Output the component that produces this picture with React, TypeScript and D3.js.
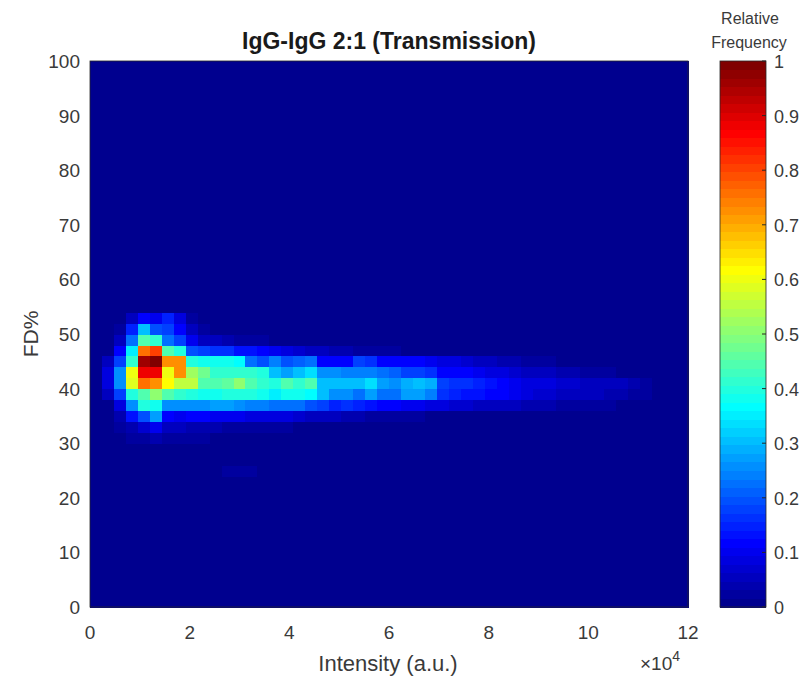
import React from 'react';
import * as d3 from 'd3';

// FD% bins are 2 wide, intensity bins are 2400 wide (50 x 50 grid)
const intensityBinWidth = 2400;
const fdBinWidth = 2;
const nIntensityBins = 50;
const nFdBins = 50;

// lower edge of each FD% row that has counts; cells left out are 0
const fdRowStarts = [24, 30, 32, 34, 36, 38, 40, 42, 44, 46, 48, 50, 52];

// relative frequency per intensity bin (from 0), one list per row above
const freqRows = [
  [0, 0, 0, 0, 0, 0, 0, 0, 0, 0, 0, 0.02, 0.03, 0.02],
  [0, 0, 0, 0.02, 0.03, 0.04, 0.03, 0.02, 0.02, 0.02],
  [0, 0, 0.02, 0.04, 0.07, 0.1, 0.05, 0.05, 0.04, 0.04, 0.04, 0.03, 0.03, 0.03, 0.02, 0.02, 0.02],
  [0, 0, 0.04, 0.14, 0.2, 0.28, 0.12, 0.1, 0.11, 0.11, 0.1, 0.1, 0.1, 0.09, 0.09, 0.08, 0.08, 0.07, 0.06, 0.05,
    0.05, 0.04, 0.04, 0.03, 0.03, 0.03, 0.02, 0.02],
  [0, 0, 0.08, 0.25, 0.4, 0.38, 0.25, 0.25, 0.25, 0.25, 0.27, 0.27, 0.26, 0.24, 0.24, 0.22, 0.23, 0.23, 0.2, 0.18,
    0.15, 0.17, 0.15, 0.14, 0.12, 0.11, 0.1, 0.1, 0.09, 0.08, 0.07, 0.07, 0.06, 0.05, 0.05, 0.05, 0.04, 0.04, 0.04,
    0.03, 0.03, 0.03, 0.02, 0.02],
  [0, 0.05, 0.18, 0.4, 0.45, 0.5, 0.45, 0.42, 0.4, 0.38, 0.38, 0.4, 0.4, 0.4, 0.39, 0.35, 0.38, 0.38, 0.36, 0.3,
    0.25, 0.25, 0.22, 0.28, 0.22, 0.22, 0.27, 0.27, 0.24, 0.16, 0.15, 0.14, 0.13, 0.12, 0.11, 0.1, 0.08, 0.07, 0.07,
    0.06, 0.06, 0.05, 0.05, 0.04, 0.04, 0.03, 0.03],
  [0, 0.08, 0.25, 0.58, 0.75, 0.72, 0.62, 0.56, 0.55, 0.45, 0.45, 0.46, 0.5, 0.44, 0.42, 0.4, 0.44, 0.41, 0.44, 0.3,
    0.3, 0.3, 0.31, 0.33, 0.28, 0.25, 0.29, 0.3, 0.29, 0.18, 0.17, 0.16, 0.15, 0.13, 0.12, 0.1, 0.09, 0.08, 0.08,
    0.07, 0.07, 0.06, 0.06, 0.06, 0.05, 0.04, 0.03],
  [0, 0.08, 0.25, 0.6, 0.88, 0.88, 0.6, 0.72, 0.52, 0.48, 0.42, 0.42, 0.42, 0.41, 0.4, 0.3, 0.28, 0.3, 0.33, 0.25,
    0.25, 0.24, 0.24, 0.24, 0.22, 0.21, 0.18, 0.18, 0.17, 0.12, 0.11, 0.11, 0.1, 0.08, 0.08, 0.07, 0.06, 0.05, 0.05,
    0.04, 0.04, 0.03, 0.03, 0.02],
  [0, 0.05, 0.18, 0.42, 0.96, 1.0, 0.72, 0.72, 0.4, 0.38, 0.38, 0.38, 0.37, 0.22, 0.2, 0.24, 0.2, 0.21, 0.23, 0.12,
    0.12, 0.12, 0.18, 0.16, 0.12, 0.11, 0.12, 0.11, 0.1, 0.09, 0.08, 0.07, 0.06, 0.05, 0.04, 0.04, 0.03, 0.03, 0.02],
  [0, 0, 0.12, 0.35, 0.75, 0.8, 0.45, 0.4, 0.2, 0.18, 0.16, 0.17, 0.14, 0.13, 0.11, 0.1, 0.09, 0.07, 0.06, 0.05,
    0.04, 0.04, 0.03, 0.03, 0.02, 0.02],
  [0, 0, 0.05, 0.22, 0.45, 0.42, 0.22, 0.18, 0.1, 0.06, 0.05, 0.04, 0.03, 0.02, 0.02],
  [0, 0, 0.02, 0.15, 0.3, 0.2, 0.18, 0.12, 0.05, 0.03],
  [0, 0, 0, 0.05, 0.12, 0.1, 0.15, 0.08, 0.03],
];

const xTicks = [0, 2, 4, 6, 8, 10, 12];
const yTicks = [0, 10, 20, 30, 40, 50, 60, 70, 80, 90, 100];
const cbTicks = [0, 0.1, 0.2, 0.3, 0.4, 0.5, 0.6, 0.7, 0.8, 0.9, 1];

// matlab style jet(64)
const jet = d3.range(1, 65).map((k) => {
  const t = k / 64;
  const c = (v) => Math.round(255 * Math.max(0, Math.min(1, v)));
  return d3.rgb(c(1.5 - Math.abs(4 * t - 3)), c(1.5 - Math.abs(4 * t - 2)), c(1.5 - Math.abs(4 * t - 1))).formatHex();
});

const App = () => {
  const font = 'Liberation Sans, Arial, Helvetica, sans-serif';
  const textColor = '#3a3a3a';
  const plot = { left: 90, right: 688, top: 61, bottom: 607 };

  const xScale = d3.scaleLinear().domain([0, 120000]).range([plot.left, plot.right]);
  const yScale = d3.scaleLinear().domain([0, 100]).range([plot.bottom, plot.top]);
  const color = d3.scaleQuantize<string>().domain([0, 1]).range(jet);

  const grid = [];
  for (let j = 0; j < nFdBins; j++) {
    const fd = j * fdBinWidth;
    const ri = fdRowStarts.indexOf(fd);
    for (let i = 0; i < nIntensityBins; i++) {
      const v = ri >= 0 ? freqRows[ri][i] ?? 0 : 0;
      grid.push({ x0: i * intensityBinWidth, y0: fd, v });
    }
  }

  const cb = { left: 720, right: 766 };
  const cbScale = d3.scaleLinear().domain([0, 1]).range([plot.bottom, plot.top]);
  const bandH = (plot.bottom - plot.top) / jet.length;

  return (
    <svg width={801} height={682} style={{ display: 'block', position: 'absolute', left: 0, top: 0 }}>
      <rect width={801} height={682} fill="#fff" />
      <g shapeRendering="crispEdges">
        {grid.map((d, idx) => (
          <rect
            key={idx}
            x={xScale(d.x0)}
            y={yScale(d.y0 + fdBinWidth)}
            width={xScale(d.x0 + intensityBinWidth) - xScale(d.x0) + 0.6}
            height={yScale(d.y0) - yScale(d.y0 + fdBinWidth) + 0.6}
            fill={color(d.v)}
          />
        ))}
      </g>
      <rect
        x={plot.left}
        y={plot.top}
        width={plot.right - plot.left}
        height={plot.bottom - plot.top}
        fill="none"
        stroke="#262626"
        strokeWidth={0.8}
      />

      {/* tick labels */}
      {xTicks.map((t) => (
        <text key={'x' + t} x={xScale(t * 10000)} y={639} textAnchor="middle" fontFamily={font} fontSize={19} fill={textColor}>
          {t}
        </text>
      ))}
      {yTicks.map((t) => (
        <text key={'y' + t} x={80} y={yScale(t) + 7} textAnchor="end" fontFamily={font} fontSize={19} fill={textColor}>
          {t}
        </text>
      ))}

      <text x={389} y={49} textAnchor="middle" fontFamily={font} fontSize={23} fontWeight="bold" fill="#1a1a1a">
        IgG-IgG 2:1 (Transmission)
      </text>
      <text x={388} y={671} textAnchor="middle" fontFamily={font} fontSize={22} fill={textColor}>
        Intensity (a.u.)
      </text>
      <text x={640} y={670} fontFamily={font} fontSize={19} fill={textColor}>
        ×10<tspan dy={-9} fontSize={14}>4</tspan>
      </text>
      <text
        transform={`translate(38,${(plot.top + plot.bottom) / 2}) rotate(-90)`}
        textAnchor="middle"
        fontFamily={font}
        fontSize={21}
        fill={textColor}
      >
        FD%
      </text>

      {/* colorbar */}
      <g shapeRendering="crispEdges">
        {jet.map((c, k) => (
          <rect key={k} x={cb.left} y={plot.bottom - (k + 1) * bandH} width={cb.right - cb.left} height={bandH + 0.5} fill={c} />
        ))}
      </g>
      <rect x={cb.left} y={plot.top} width={cb.right - cb.left} height={plot.bottom - plot.top} fill="none" stroke="#262626" strokeWidth={0.8} />
      {cbTicks.map((t) => (
        <g key={'c' + t}>
          <line x1={cb.right - 4} x2={cb.right} y1={cbScale(t)} y2={cbScale(t)} stroke="#262626" />
          <text x={774} y={cbScale(t) + 7} fontFamily={font} fontSize={18} fill={textColor}>
            {t}
          </text>
        </g>
      ))}
      <text x={750} y={24} textAnchor="middle" fontFamily={font} fontSize={16} fill={textColor}>
        Relative
      </text>
      <text x={749} y={48} textAnchor="middle" fontFamily={font} fontSize={16} fill={textColor}>
        Frequency
      </text>
    </svg>
  );
};

export default App;
